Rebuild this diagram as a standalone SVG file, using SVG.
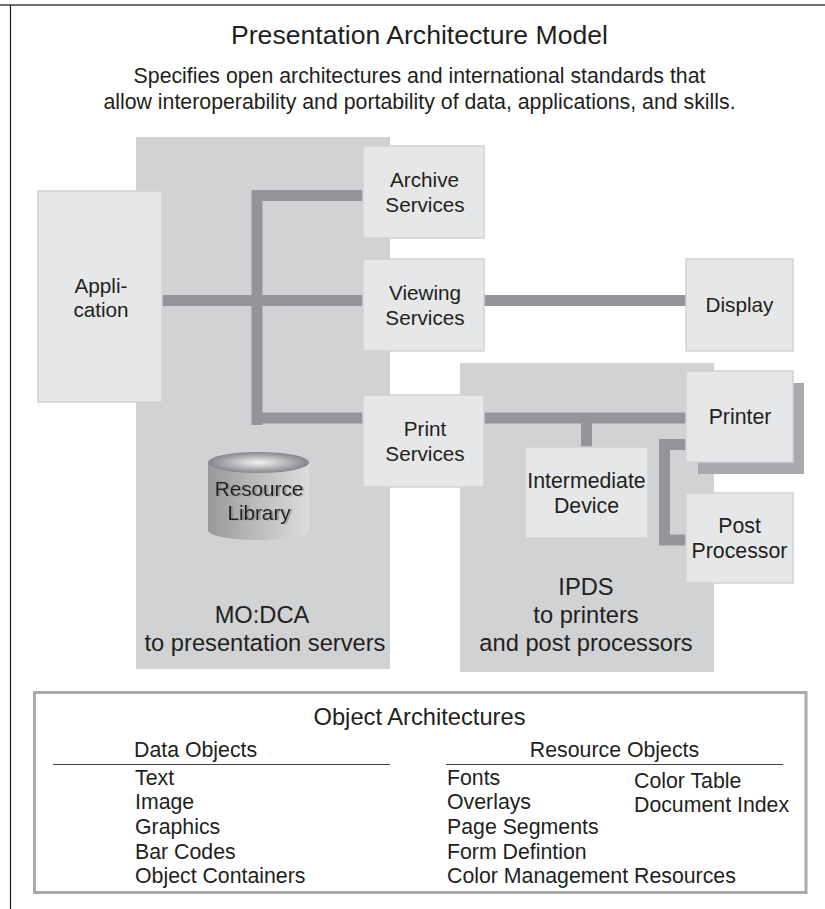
<svg xmlns="http://www.w3.org/2000/svg" width="825" height="909" viewBox="0 0 825 909">
<defs>
<linearGradient id="cylBody" x1="0" x2="1" y1="0" y2="0"><stop offset="0" stop-color="#98999b"/><stop offset="0.5" stop-color="#bcbdbf"/><stop offset="1" stop-color="#dcddde"/></linearGradient>
<radialGradient id="cylTop" cx="0.5" cy="0.5" r="0.5"><stop offset="0" stop-color="#f4f4f5"/><stop offset="1" stop-color="#858689"/></radialGradient>
<filter id="ghost" x="-10%" y="-10%" width="125%" height="125%"><feDropShadow dx="2" dy="0.5" stdDeviation="0.5" flood-color="#808184" flood-opacity="0.6"/></filter>
</defs>
<style>
text{font-family:"Liberation Sans",Arial,sans-serif;font-size:21.300px;fill:#231f20}
.m{text-anchor:middle}
.cap{font-size:23.700px}
.s{font-size:20.700px}
.panel{fill:#d1d2d4}
.box{fill:#e6e7e8;stroke:#d1d2d4;stroke-width:1.500}
.bar{fill:none;stroke:#939598;stroke-width:11}
.rule{stroke:#414042;stroke-width:1.200}
</style>
<rect width="825" height="909" fill="#fff"/>
<path d="M0 5H825" stroke="#6d6e71" stroke-width="2"/>
<path d="M10.500 5V909" stroke="#231f20" stroke-width="1.200"/>
<text class="m" x="419.500" y="44" style="font-size:26.600px">Presentation Architecture Model</text>
<text class="m" x="419.500" y="83">Specifies open architectures and international standards that</text>
<text class="m" x="419.500" y="109">allow interoperability and portability of data, applications, and skills.</text>
<g id="panels">
<g id="modca"><rect class="panel" x="136" y="137" width="254" height="532"/>
<text class="m cap" x="262" y="623">MO:DCA</text><text class="m cap" x="265" y="651">to presentation servers</text></g>
<g id="ipds"><rect class="panel" x="460" y="363" width="254" height="309"/>
<text class="m cap" x="586" y="595">IPDS</text><text class="m cap" x="586" y="623">to printers</text><text class="m cap" x="586" y="651">and post processors</text></g>
</g>
<g id="connectors">
<path class="bar" d="M257 425V195.500H363"/>
<path class="bar" d="M162 300.500H363"/>
<path class="bar" d="M484 300.500H686"/>
<path class="bar" d="M257 418H363"/>
<path class="bar" d="M484 418H686"/>
<path class="bar" d="M586.500 423V447"/>
<path class="bar" d="M686 444.500H664.500V540H686"/>
</g>
<g id="application"><rect class="box" x="38" y="191" width="124" height="211"/><text class="m s" x="101" y="293">Appli-</text><text class="m s" x="101" y="317">cation</text></g>
<g id="archive"><rect class="box" x="363" y="146" width="121" height="92"/><text class="m s" x="424.500" y="187">Archive</text><text class="m s" x="425" y="212">Services</text></g>
<g id="viewing"><rect class="box" x="363" y="259" width="121" height="92"/><text class="m s" x="425" y="300">Viewing</text><text class="m s" x="425" y="325">Services</text></g>
<g id="print"><rect class="box" x="363" y="395" width="121" height="92"/><text class="m s" x="425" y="436">Print</text><text class="m s" x="425" y="461">Services</text></g>
<g id="display"><rect class="box" x="686" y="259" width="107" height="92"/><text class="m s" x="739.500" y="312">Display</text></g>
<g id="intermediate"><rect class="box" x="525" y="447" width="123" height="91"/><text class="m" x="586.500" y="488">Intermediate</text><text class="m" x="586.500" y="513">Device</text></g>
<g id="printer"><path d="M698 462V474H804V383H793V462Z" fill="#a7a9ac"/><rect class="box" x="686" y="371" width="107" height="91"/><text class="m" x="740" y="424">Printer</text></g>
<g id="postprocessor"><rect class="box" x="686" y="493" width="107" height="90"/><text class="m" x="739.500" y="533">Post</text><text class="m" x="739.500" y="558">Processor</text></g>
<g id="library">
<path d="M208 462V530C208 536 231 540 258.500 540S309 536 309 530V462Z" fill="url(#cylBody)"/>
<ellipse cx="258.500" cy="462.500" rx="50.500" ry="10.500" fill="url(#cylTop)"/>
<text class="m s" x="259" y="496" filter="url(#ghost)">Resource</text><text class="m s" x="259" y="520" filter="url(#ghost)">Library</text>
</g>
<g id="objects">
<rect x="34.500" y="692.500" width="771.500" height="200" fill="#fff" stroke="#a7a9ac" stroke-width="3"/>
<text class="m cap" x="419.500" y="725">Object Architectures</text>
<text x="134" y="757">Data Objects</text>
<text class="m" x="614.500" y="757">Resource Objects</text>
<path class="rule" d="M53 764.500H390M446 764.500H783"/>
<text x="135" y="785">Text</text><text x="135" y="809">Image</text><text x="135" y="834">Graphics</text><text x="135" y="859">Bar Codes</text><text x="135" y="883">Object Containers</text>
<text x="447" y="785">Fonts</text><text x="447" y="809">Overlays</text><text x="447" y="834">Page Segments</text><text x="447" y="859">Form Defintion</text><text x="447" y="883">Color Management Resources</text>
<text x="634" y="788">Color Table</text><text x="634" y="812">Document Index</text>
</g>
</svg>
